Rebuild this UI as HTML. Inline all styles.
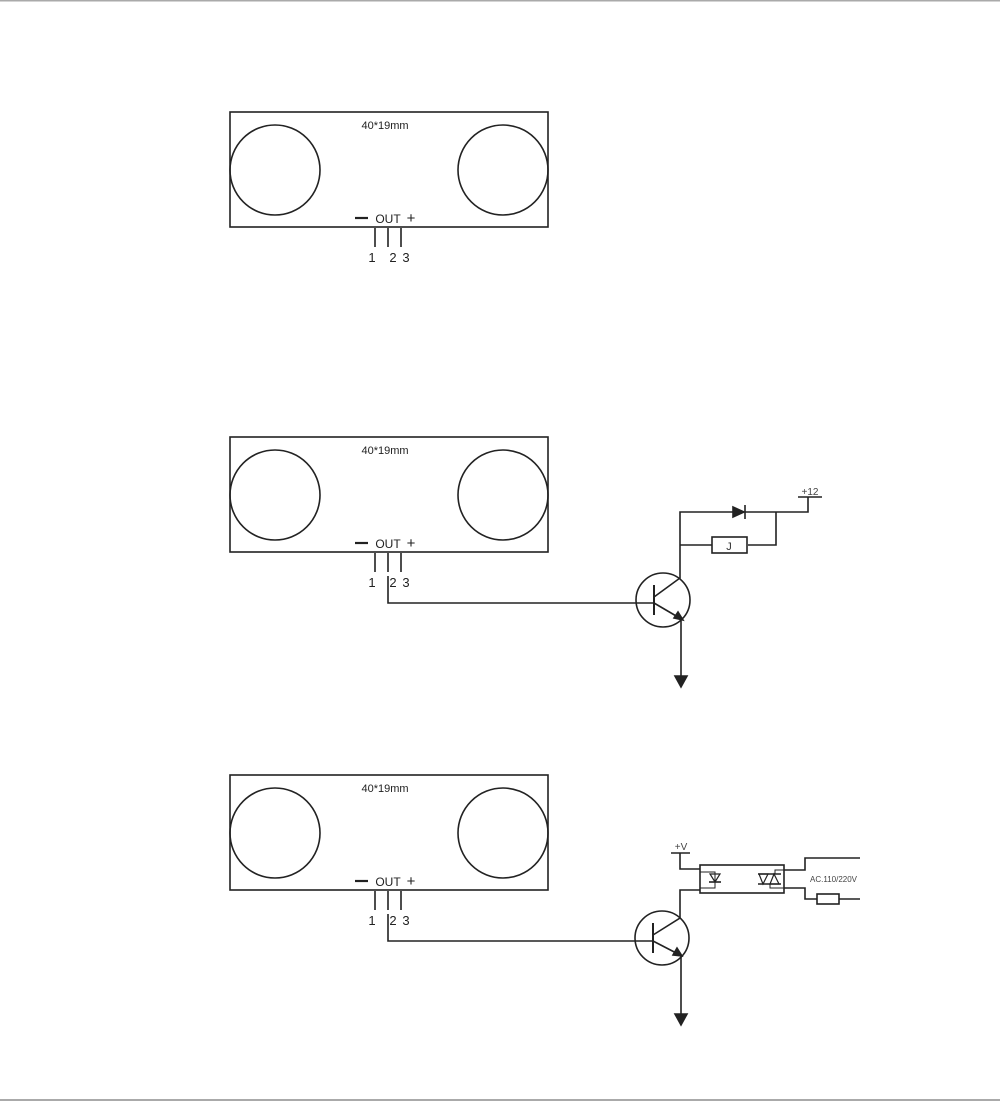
<!DOCTYPE html>
<html><head><style>body{margin:0;background:#fff}svg{display:block}</style></head><body>
<svg width="1000" height="1101" viewBox="0 0 1000 1101" xmlns="http://www.w3.org/2000/svg" font-family="Liberation Sans, sans-serif">
<rect x="0" y="0" width="1000" height="1.5" fill="#aaa"/>
<rect x="0" y="1099" width="1000" height="2" fill="#aaa"/>
<defs>
<g id="s" stroke="#222" fill="none" stroke-width="1.6">
<rect x="230" y="112" width="318" height="115"/>
<circle cx="275" cy="170" r="45"/>
<circle cx="503" cy="170" r="45"/>
<line x1="375" y1="228" x2="375" y2="247"/>
<line x1="388" y1="228" x2="388" y2="247"/>
<line x1="401" y1="228" x2="401" y2="247"/>
<line x1="355" y1="218" x2="368" y2="218" stroke-width="2.2"/>
<text x="385" y="129" font-size="11" fill="#222" stroke="none" text-anchor="middle">40*19mm</text>
<text x="388" y="223" font-size="12" fill="#222" stroke="none" text-anchor="middle">OUT</text>
<text x="411" y="223" font-size="15" fill="#222" stroke="none" text-anchor="middle">+</text>
<text x="372" y="262" font-size="13" fill="#222" stroke="none" text-anchor="middle">1</text>
<text x="393" y="262" font-size="13" fill="#222" stroke="none" text-anchor="middle">2</text>
<text x="406" y="262" font-size="13" fill="#222" stroke="none" text-anchor="middle">3</text>
</g>
</defs>
<use href="#s"/>
<use href="#s" y="325"/>
<use href="#s" y="663"/>
<g stroke="#222" fill="none" stroke-width="1.6">
<!-- circuit 2 -->
<polyline points="388,576 388,603 654,603"/>
<circle cx="663" cy="600" r="27"/>
<line x1="654" y1="585" x2="654" y2="615" stroke-width="2"/>
<polyline points="654,597 680,578 680,512 733,512"/>
<polyline points="654,603 683,620"/>
<polygon points="683,620 674,618 678,612" fill="#222"/>
<polyline points="681,618 681,676"/>
<polygon points="675,676 687,676 681,687" fill="#222"/>
<polygon points="733,507 733,517 744,512" fill="#222"/>
<line x1="745" y1="505" x2="745" y2="519"/>
<polyline points="745,512 808,512 808,497"/>
<line x1="798" y1="497" x2="822" y2="497"/>
<polyline points="776,512 776,545 748,545"/>
<rect x="712" y="537" width="35" height="16"/>
<line x1="712" y1="545" x2="680" y2="545"/>
<!-- circuit 3 -->
<polyline points="388,914 388,941 654,941"/>
<circle cx="662" cy="938" r="27"/>
<line x1="653" y1="923" x2="653" y2="953" stroke-width="2"/>
<polyline points="653,935 680,918 680,890 700,890"/>
<polyline points="653,941 682,956"/>
<polygon points="682,956 673,955 677,948" fill="#222"/>
<polyline points="681,955 681,1014"/>
<polygon points="675,1014 687,1014 681,1025" fill="#222"/>
<rect x="700" y="865" width="84" height="28"/>
<polyline points="671,853 690,853"/>
<polyline points="680,853 680,869 700,869"/>
<polyline points="784,870 805,870 805,858 860,858"/>
<polyline points="784,888 805,888 805,899 817,899"/>
<rect x="817" y="894" width="22" height="10"/>
<line x1="839" y1="899" x2="860" y2="899"/>
<polyline points="700,872 715,872 715,888 700,888" stroke-width="1"/>
<polygon points="710,874 720,874 715,882" stroke-width="1.2"/>
<line x1="709" y1="882" x2="721" y2="882"/>
<polygon points="759,874 768,874 763,884" stroke-width="1.2"/>
<polygon points="770,884 779,884 774,874" stroke-width="1.2"/>
<line x1="758" y1="884" x2="781" y2="884"/>
<line x1="758" y1="874" x2="781" y2="874"/>
<polyline points="784,870 775,870 775,874" stroke-width="1"/>
<polyline points="784,888 770,888 770,884" stroke-width="1"/>
</g>
<text x="810" y="495" font-size="10" fill="#444" text-anchor="middle">+12</text>
<text x="681" y="850" font-size="10" fill="#444" text-anchor="middle">+V</text>
<text x="810" y="882" font-size="8" fill="#444">AC.110/220V</text>
<text x="729" y="550" font-size="11" fill="#333" text-anchor="middle">J</text>
</svg>
</body></html>
